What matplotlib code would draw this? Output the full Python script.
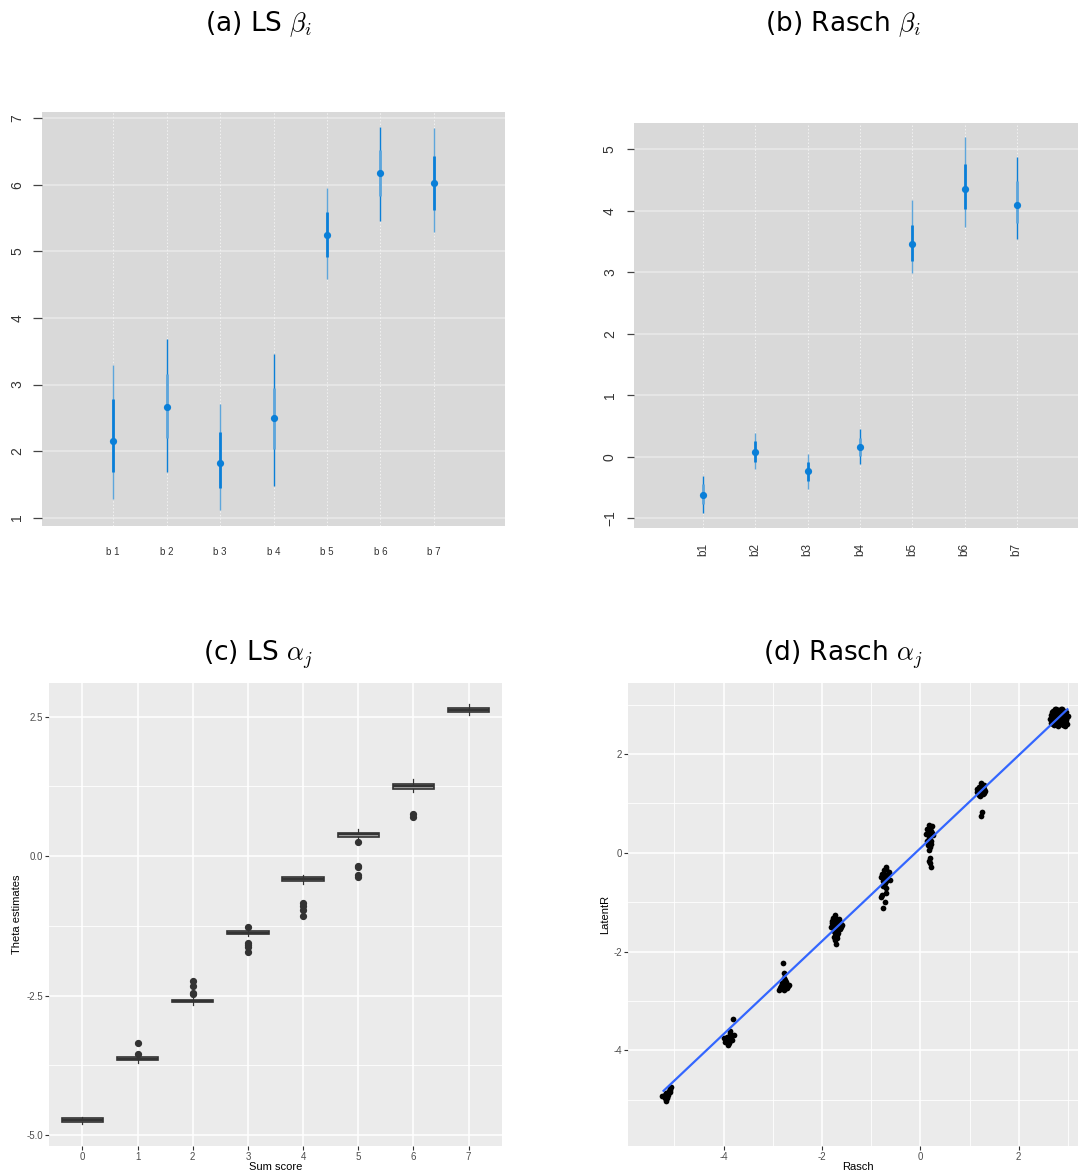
import matplotlib
matplotlib.use("Agg")
import matplotlib.pyplot as plt

plt.rcParams["mathtext.fontset"] = "cm"
plt.rcParams["font.family"] = ["Liberation Sans", "DejaVu Sans"]

# ---------------- data ----------------
items_a = ["b 1", "b 2", "b 3", "b 4", "b 5", "b 6", "b 7"]
items_b = ["b1", "b2", "b3", "b4", "b5", "b6", "b7"]

ls_est = [2.15, 2.66, 1.82, 2.50, 5.25, 6.18, 6.03]
ls_outer_lo = [1.28, 1.68, 1.11, 1.48, 4.59, 5.46, 5.29]
ls_outer_hi = [3.29, 3.68, 2.71, 3.455, 5.95, 6.87, 6.85]
ls_inner_lo = [1.68, 2.20, 1.44, 2.03, 4.91, 5.83, 5.63]
ls_inner_hi = [2.78, 3.16, 2.28, 2.95, 5.59, 6.52, 6.43]

rasch_est = [-0.62, 0.08, -0.23, 0.16, 3.46, 4.355, 4.095]
rasch_outer_lo = [-0.91, -0.20, -0.53, -0.12, 2.98, 3.74, 3.54]
rasch_outer_hi = [-0.31, 0.39, 0.05, 0.45, 4.18, 5.19, 4.88]
rasch_inner_lo = [-0.77, -0.08, -0.39, 0.02, 3.19, 4.03, 3.80]
rasch_inner_hi = [-0.44, 0.25, -0.09, 0.30, 3.77, 4.76, 4.485]

# boxplot summaries of LS theta estimates by sum score
sum_scores = [0, 1, 2, 3, 4, 5, 6, 7]
box_whislo = [-4.80, -3.70, -2.67, -1.44, -0.50, 0.29, 1.15, 2.535]
box_q1 = [-4.76, -3.65, -2.624, -1.40, -0.44, 0.35, 1.21, 2.59]
box_med = [-4.73, -3.63, -2.60, -1.37, -0.41, 0.39, 1.255, 2.62]
box_q3 = [-4.70, -3.60, -2.576, -1.34, -0.377, 0.42, 1.30, 2.654]
box_whishi = [-4.68, -3.58, -2.55, -1.31, -0.34, 0.49, 1.39, 2.725]
box_fliers = [
    [],
    [-3.35, -3.545],
    [-2.23, -2.32, -2.445, -2.47],
    [-1.27, -1.55, -1.59, -1.63, -1.71],
    [-0.84, -0.885, -0.96, -1.08],
    [0.245, -0.17, -0.20, -0.335, -0.365],
    [0.75, 0.71],
    [],
]

# scatter: Rasch estimate vs LatentR (one line per sum-score cluster)
rasch_x = [
    -5.217, -5.163, -5.115, -5.081, -5.061, -5.149, -5.176, -5.251, -5.136, -5.095, -5.190, -5.12, -5.20, -5.16, -5.08,
    -3.815, -3.862, -3.795, -3.827, -3.896, -3.963, -3.984, -3.929, -3.876, -3.917, -3.849, -3.86, -3.92, -3.84, -3.95, -3.88,
    -2.791, -2.764, -2.778, -2.812, -2.846, -2.778, -2.710, -2.669, -2.744, -2.832, -2.724, -2.866, -2.80, -2.74, -2.70, -2.78, -2.84, -2.76,
    -1.728, -1.775, -1.660, -1.795, -1.694, -1.592, -1.748, -1.640, -1.728, -1.762, -1.694, -1.714, -1.626, -1.815,
    -1.74, -1.70, -1.78, -1.66, -1.72, -1.62, -1.76, -1.70, -1.74, -1.68, -1.80,
    -0.691, -0.745, -0.644, -0.779, -0.678, -0.732, -0.799, -0.623, -0.711, -0.759, -0.691, -0.799, -0.691, -0.711, -0.759, -0.772,
    -0.70, -0.74, -0.66, -0.76, -0.70, -0.73, -0.78,
    0.169, 0.237, 0.136, 0.217, 0.122, 0.257, 0.169, 0.217, 0.156, 0.190, 0.203, 0.190, 0.224, 0.176,
    0.20, 0.15, 0.23, 0.19, 0.14, 0.21, 0.18,
    1.233, 1.287, 1.186, 1.274, 1.152, 1.233, 1.321, 1.186, 1.274, 1.220, 1.253, 1.233, 1.26, 1.20, 1.30, 1.24, 1.16, 1.30, 1.20,
    2.66, 2.70, 2.74, 2.80, 2.86, 2.92, 2.68, 2.75, 2.72, 2.82, 2.90, 2.95, 2.98, 2.93, 2.78, 2.85, 2.88, 2.76, 2.65, 2.82, 2.97, 2.70,
    2.64, 2.68, 2.72, 2.76, 2.80, 2.84, 2.88, 2.92, 2.96, 3.00, 2.78, 2.86, 2.92, 2.74, 2.84, 2.70, 2.80, 2.94, 2.98,
]
latent_y = [
    -4.926, -4.872, -4.818, -4.771, -4.750, -4.973, -5.027, -4.926, -4.906, -4.838, -4.960, -4.86, -4.90, -4.94, -4.80,
    -3.367, -3.603, -3.690, -3.790, -3.858, -3.826, -3.757, -3.725, -3.656, -3.893, -3.740, -3.74, -3.80, -3.68, -3.78, -3.84,
    -2.240, -2.443, -2.544, -2.645, -2.746, -2.780, -2.746, -2.679, -2.679, -2.699, -2.611, -2.780, -2.72, -2.74, -2.70, -2.62, -2.72, -2.58,
    -1.261, -1.328, -1.349, -1.430, -1.430, -1.464, -1.531, -1.551, -1.632, -1.700, -1.733, -1.848, -1.397, -1.498,
    -1.30, -1.36, -1.46, -1.44, -1.52, -1.50, -1.58, -1.66, -1.76, -1.62, -1.38,
    -0.297, -0.351, -0.385, -0.432, -0.472, -0.540, -0.499, -0.553, -0.621, -0.675, -0.722, -0.891, -0.823, -0.992, -1.127, -0.864,
    -0.33, -0.42, -0.45, -0.58, -0.58, -0.66, -0.50,
    0.560, 0.540, 0.472, 0.445, 0.378, 0.358, 0.290, 0.243, 0.155, 0.108, -0.115, -0.202, -0.297, -0.162,
    0.50, 0.42, 0.40, 0.33, 0.24, 0.18, 0.05,
    1.404, 1.370, 1.336, 1.302, 1.282, 1.255, 1.255, 1.201, 1.188, 1.147, 0.830, 0.742, 1.38, 1.32, 1.30, 1.22, 1.24, 1.21, 1.17,
    2.78, 2.88, 2.92, 2.90, 2.92, 2.88, 2.70, 2.62, 2.58, 2.60, 2.58, 2.62, 2.74, 2.80, 2.75, 2.70, 2.82, 2.84, 2.62, 2.66, 2.68, 2.66,
    2.70, 2.84, 2.76, 2.92, 2.82, 2.86, 2.92, 2.74, 2.84, 2.76, 2.66, 2.62, 2.66, 2.70, 2.78, 2.60, 2.56, 2.56, 2.60,
]
fit_x = [-5.22, 2.99]
fit_y = [-4.82, 2.905]

titles = [r"(a) LS $\beta_i$", r"(b) Rasch $\beta_i$", r"(c) LS $\alpha_j$", r"(d) Rasch $\alpha_j$"]

# ---------------- style ----------------
DARK = "#0a7fd8"
LIGHT = "#5ea6dc"
outer_dark_a = [False, True, False, True, False, True, False]
outer_dark_b = [True, False, False, True, False, False, True]

W, H = 1078, 1176
fig = plt.figure(figsize=(W / 100, H / 100), dpi=100)


def axes_px(x0, y0, x1, y1):
    return fig.add_axes([x0 / W, 1 - y1 / H, (x1 - x0) / W, (y1 - y0) / H])


def interval_panel(ax, labels, est, olo, ohi, ilo, ihi, odark):
    ax.set_facecolor("#d9d9d9")
    for s in ax.spines.values():
        s.set_visible(False)
    pos = list(range(1, len(labels) + 1))
    for i, p in enumerate(pos):
        oc, ic = (DARK, LIGHT) if odark[i] else (LIGHT, DARK)
        ax.plot([p, p], [olo[i], ohi[i]], color=oc, lw=1.0, solid_capstyle="butt", zorder=3)
        ax.plot([p, p], [ilo[i], ihi[i]], color=ic, lw=2.0, solid_capstyle="butt", zorder=4)
    ax.plot(pos, est, "o", color=DARK, ms=5.2, zorder=5, markeredgewidth=0)
    ax.set_xticks(pos)
    ax.grid(axis="y", color="#e8e8e8", lw=1.2, zorder=1)
    for p in pos:
        ax.axvline(p, color="#f2f2f2", lw=0.7, ls=(0, (1.5, 2)), zorder=1)
    ax.set_axisbelow(True)


# (a)
axa = axes_px(42, 112, 505, 526)
interval_panel(axa, items_a, ls_est, ls_outer_lo, ls_outer_hi, ls_inner_lo, ls_inner_hi, outer_dark_a)
axa.set_xlim(-0.33, 8.33)
axa.set_ylim(0.875, 7.095)
axa.set_yticks([1, 2, 3, 4, 5, 6, 7])
axa.set_xticklabels(items_a, fontsize=7, color="#333333")
axa.tick_params(axis="x", length=0, pad=15)
axa.tick_params(axis="y", length=6.3, width=0.9, color="#444444", pad=6.5,
                labelsize=10, labelcolor="#333333", labelrotation=90)
for t in axa.get_yticklabels():
    t.set_va("center")

# (b)
axb = axes_px(634, 122.7, 1086, 527.7)
interval_panel(axb, items_b, rasch_est, rasch_outer_lo, rasch_outer_hi, rasch_inner_lo, rasch_inner_hi, outer_dark_b)
axb.set_xlim(-0.325, 8.325)
axb.set_ylim(-1.153, 5.43)
axb.set_yticks([-1, 0, 1, 2, 3, 4, 5])
axb.set_yticklabels(["\u22121", "0", "1", "2", "3", "4", "5"])
axb.set_xticklabels(items_b, fontsize=8.5, color="#333333", rotation=90)
axb.tick_params(axis="x", length=0, pad=11)
axb.tick_params(axis="y", length=5.3, width=0.9, color="#444444", pad=7,
                labelsize=10, labelcolor="#333333", labelrotation=90)
for t in axb.get_yticklabels():
    t.set_va("center")


def gg_style(ax):
    ax.set_facecolor("#ebebeb")
    for s in ax.spines.values():
        s.set_visible(False)
    ax.tick_params(length=3, width=0.8, color="#333333", pad=1.5, labelsize=7, labelcolor="#4d4d4d")
    ax.set_axisbelow(True)


# (c)
axc = axes_px(49.3, 682.7, 501.7, 1146)
gg_style(axc)
axc.set_xlim(-0.6, 7.6)
axc.set_ylim(-5.197, 3.11)
for yv in [-3.75, -1.25, 1.25]:
    axc.axhline(yv, color="white", lw=0.6, zorder=0.5)
for yv in [-5, -2.5, 0, 2.5]:
    axc.axhline(yv, color="white", lw=1.1, zorder=0.6)
for xv in sum_scores:
    axc.axvline(xv, color="white", lw=1.1, zorder=0.6)
stats = []
for i in range(len(sum_scores)):
    stats.append(dict(med=box_med[i], q1=box_q1[i], q3=box_q3[i],
                      whislo=box_whislo[i], whishi=box_whishi[i], fliers=box_fliers[i]))
axc.bxp(stats, positions=sum_scores, widths=0.75, patch_artist=True, showcaps=False,
        boxprops=dict(facecolor="#a6a6a6", edgecolor="#333333", lw=1.2),
        medianprops=dict(color="#333333", lw=1.6),
        whiskerprops=dict(color="#333333", lw=0.9),
        flierprops=dict(marker="o", markerfacecolor="#333333", markeredgecolor="#333333", markersize=4.2))
axc.set_xticks(sum_scores)
axc.set_xticklabels([str(s) for s in sum_scores])
axc.set_yticks([-5, -2.5, 0, 2.5])
axc.set_yticklabels(["-5.0", "-2.5", "0.0", "2.5"])
axc.set_xlabel("Sum score", fontsize=8, va="center")
axc.set_ylabel("Theta estimates", fontsize=8, va="center")
axc.xaxis.set_label_coords(0.5, -0.0447)
axc.yaxis.set_label_coords(-0.0714, 0.5)

# (d)
axd = axes_px(628.3, 682.7, 1089.7, 1146)
gg_style(axd)
axd.set_xlim(-5.937, 3.443)
axd.set_ylim(-5.937, 3.443)
for v in [-5, -3, -1, 1, 3]:
    axd.axhline(v, color="white", lw=0.6, zorder=0.5)
    axd.axvline(v, color="white", lw=0.6, zorder=0.5)
for v in [-4, -2, 0, 2]:
    axd.axhline(v, color="white", lw=1.1, zorder=0.6)
    axd.axvline(v, color="white", lw=1.1, zorder=0.6)
axd.scatter(rasch_x, latent_y, s=17, color="black", linewidths=0, zorder=3)
axd.plot(fit_x, fit_y, color="#3366ff", lw=1.6, zorder=4)
axd.set_xticks([-4, -2, 0, 2])
axd.set_xticklabels(["-4", "-2", "0", "2"])
axd.set_yticks([-4, -2, 0, 2])
axd.set_yticklabels(["-4", "-2", "0", "2"])
axd.set_xlabel("Rasch", fontsize=8, va="center")
axd.set_ylabel("LatentR", fontsize=8, va="center")
axd.xaxis.set_label_coords(0.498, -0.0447)
axd.yaxis.set_label_coords(-0.0505, 0.5)

# panel captions
cap_font = ["DejaVu Sans"]
fig.text(259 / W, 1 - 30.7 / H, titles[0], ha="center", va="baseline", fontsize=19, family=cap_font)
fig.text(843 / W, 1 - 30.7 / H, titles[1], ha="center", va="baseline", fontsize=19, family=cap_font)
fig.text(258 / W, 1 - 660.7 / H, titles[2], ha="center", va="baseline", fontsize=19, family=cap_font)
fig.text(843 / W, 1 - 660.7 / H, titles[3], ha="center", va="baseline", fontsize=19, family=cap_font)

fig.savefig("out.png", dpi=100, facecolor="white")
